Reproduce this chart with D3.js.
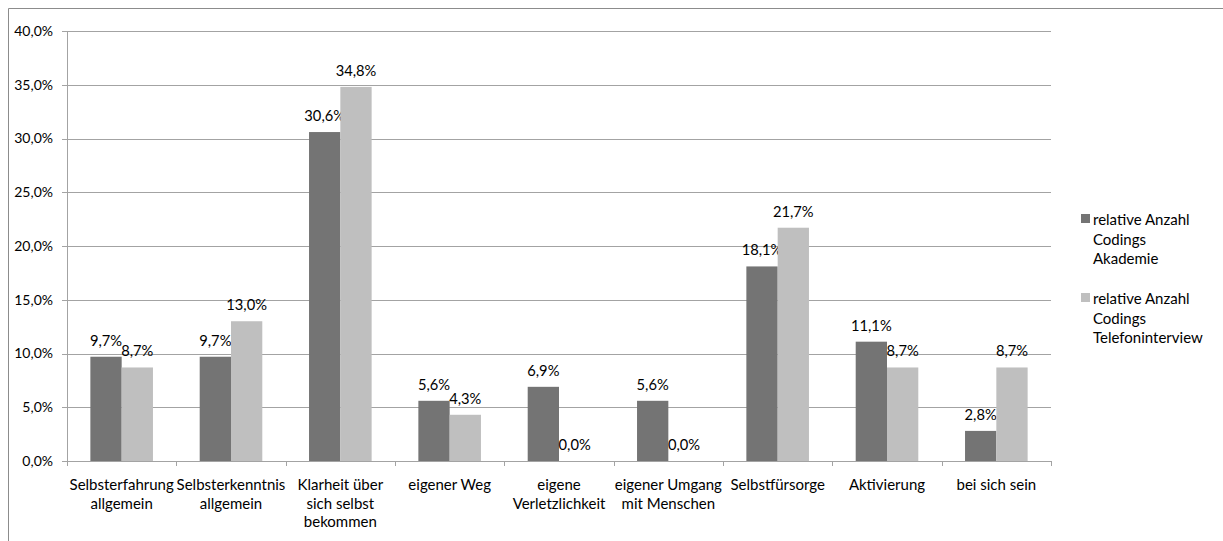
<!DOCTYPE html>
<html>
<head>
<meta charset="utf-8">
<script src="https://cdn.jsdelivr.net/npm/d3@7"></script>
<style>
body { margin:0; background:#fff; }
svg { display:block; }
text { font-family: Lato, "Open Sans", sans-serif; fill:#000; }
</style>
</head>
<body>
<svg id="chart" width="1223" height="541"></svg>
<script>
const categories = [
  ["Selbsterfahrung", "allgemein"],
  ["Selbsterkenntnis", "allgemein"],
  ["Klarheit über", "sich selbst", "bekommen"],
  ["eigener Weg"],
  ["eigene", "Verletzlichkeit"],
  ["eigener Umgang", "mit Menschen"],
  ["Selbstfürsorge"],
  ["Aktivierung"],
  ["bei sich sein"]
];
const seriesNames = [
  ["relative Anzahl", "Codings", "Akademie"],
  ["relative Anzahl", "Codings", "Telefoninterview"]
];
const akademie = [9.7, 9.7, 30.6, 5.6, 6.9, 5.6, 18.1, 11.1, 2.8];
const telefon  = [8.7, 13.0, 34.8, 4.3, 0.0, 0.0, 21.7, 8.7, 8.7];
const yTicks = [0, 5, 10, 15, 20, 25, 30, 35, 40];
const colors = ["#747474", "#bfbfbf"];

const svg = d3.select("#chart");
const fmt = v => v.toFixed(1).replace(".", ",") + "%";

// outer frame
svg.append("path").attr("d", "M8.5,541 V8.5 H1223")
  .attr("fill", "none").attr("stroke", "#8c8c8c").attr("stroke-width", 1);

const x0 = 67, x1 = 1051;
const y = d3.scaleLinear().domain([0, 40]).range([461, 31]);
const xBand = d3.scaleBand().domain(d3.range(categories.length)).range([x0, x1]).paddingInner(0).paddingOuter(0);
const bw = xBand.bandwidth();
const barW = 31.3;
const groupOffset = (bw - 2 * barW) / 2;

const gridColor = "#a3a3a3";

// gridlines
svg.append("g").selectAll("line").data(yTicks).join("line")
  .attr("x1", x0 - 5).attr("x2", x1)
  .attr("y1", d => Math.round(y(d)) + 0.5).attr("y2", d => Math.round(y(d)) + 0.5)
  .attr("stroke", gridColor).attr("stroke-width", 1);

// y tick labels
svg.append("g").selectAll("text").data(yTicks).join("text")
  .attr("x", 53).attr("y", d => y(d)).attr("dy", "0.35em")
  .attr("text-anchor", "end").attr("font-size", 14)
  .text(d => d.toFixed(1).replace(".", ",") + "%");

// y axis line
svg.append("line").attr("x1", x0 + 0.5).attr("x2", x0 + 0.5)
  .attr("y1", y(40)).attr("y2", y(0))
  .attr("stroke", gridColor);

// x tick marks
svg.append("g").selectAll("line").data(d3.range(categories.length + 1)).join("line")
  .attr("x1", d => Math.round(x0 + d * bw) + 0.5).attr("x2", d => Math.round(x0 + d * bw) + 0.5)
  .attr("y1", y(0)).attr("y2", y(0) + 5)
  .attr("stroke", gridColor);

// bars
const series = [akademie, telefon];
series.forEach((vals, si) => {
  const g = svg.append("g");
  g.selectAll("rect").data(vals).join("rect")
    .attr("x", (d, i) => xBand(i) + groupOffset + si * barW)
    .attr("width", barW)
    .attr("y", d => y(d))
    .attr("height", d => y(0) - y(d))
    .attr("fill", colors[si]);
  g.selectAll("text").data(vals).join("text")
    .attr("x", (d, i) => xBand(i) + groupOffset + si * barW + barW / 2)
    .attr("y", d => y(d) - 11)
    .attr("text-anchor", "middle").attr("font-size", 14.7)
    .text(d => fmt(d));
});

// category labels
const cat = svg.append("g").selectAll("text").data(categories).join("text")
  .attr("text-anchor", "middle").attr("font-size", 15)
  .attr("x", (d, i) => xBand(i) + bw / 2)
  .attr("y", 490);
cat.each(function(lines) {
  const t = d3.select(this);
  const xx = t.attr("x");
  lines.forEach((l, k) => {
    t.append("tspan").attr("x", xx).attr("y", 490 + k * 18.5).text(l);
  });
});

// legend
const legY = [220, 299];
seriesNames.forEach((lines, si) => {
  const g = svg.append("g");
  g.append("rect").attr("x", 1081).attr("y", legY[si] - 6).attr("width", 9).attr("height", 9)
    .attr("fill", colors[si]);
  const t = g.append("text").attr("font-size", 15);
  lines.forEach((l, k) => {
    t.append("tspan").attr("x", 1093).attr("y", legY[si] + k * 19.5).attr("dy", "0.35em").text(l);
  });
});
</script>
</body>
</html>
